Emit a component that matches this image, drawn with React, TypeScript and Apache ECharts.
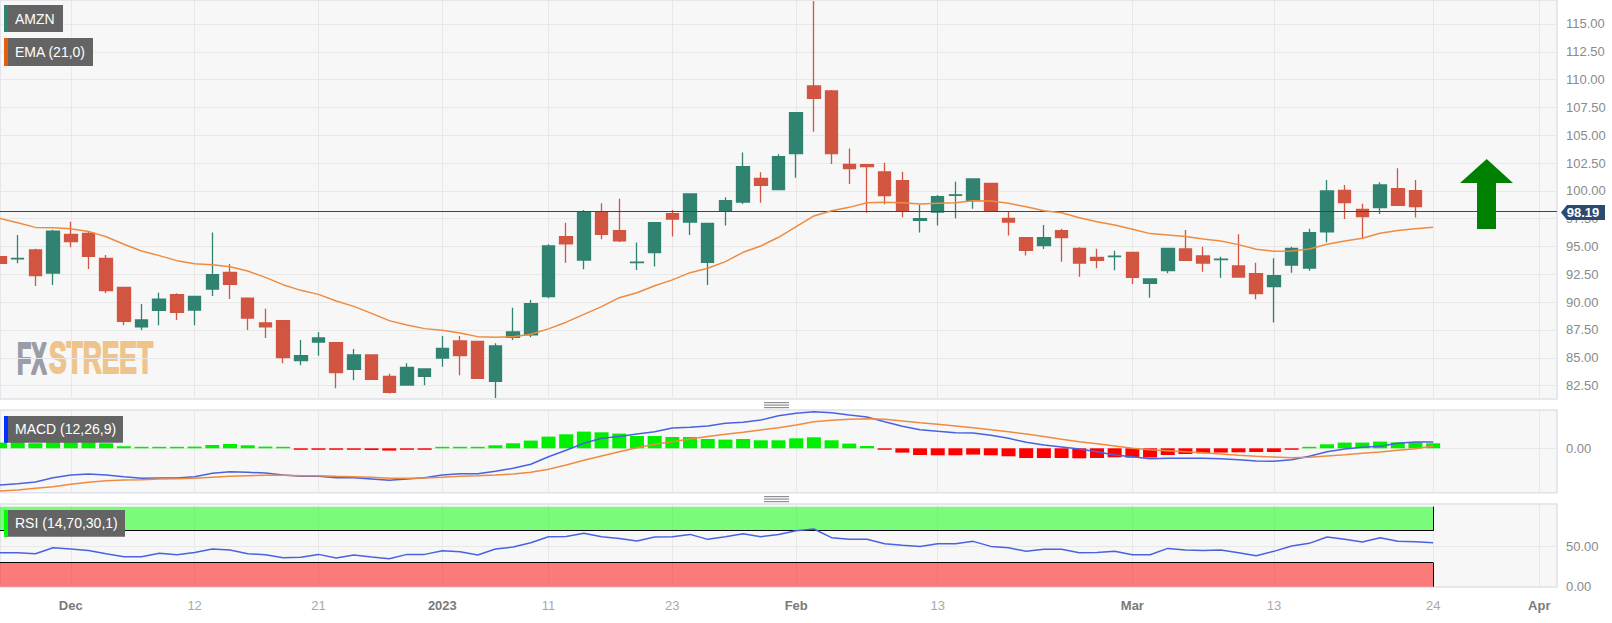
import React, { useEffect, useRef } from "react";
import * as echarts from "echarts";

const dates = [
  "Nov 25","Nov 28","Nov 29","Nov 30","Dec 1","Dec 2","Dec 5","Dec 6","Dec 7","Dec 8","Dec 9","Dec 12","Dec 13","Dec 14","Dec 15","Dec 16","Dec 19","Dec 20","Dec 21","Dec 22","Dec 23","Dec 27","Dec 28","Dec 29","Dec 30",
  "Jan 3","Jan 4","Jan 5","Jan 6","Jan 9","Jan 10","Jan 11","Jan 12","Jan 13","Jan 17","Jan 18","Jan 19","Jan 20","Jan 23","Jan 24","Jan 25","Jan 26","Jan 27","Jan 30","Jan 31",
  "Feb 1","Feb 2","Feb 3","Feb 6","Feb 7","Feb 8","Feb 9","Feb 10","Feb 13","Feb 14","Feb 15","Feb 16","Feb 17","Feb 21","Feb 22","Feb 23","Feb 24","Feb 27","Feb 28",
  "Mar 1","Mar 2","Mar 3","Mar 6","Mar 7","Mar 8","Mar 9","Mar 10","Mar 13","Mar 14","Mar 15","Mar 16","Mar 17","Mar 20","Mar 21","Mar 22","Mar 23","Mar 24","Mar 27","Mar 28","Mar 29","Mar 30","Mar 31","Apr 3","Apr 4",
];

const tickDates = ["Dec 1","Dec 12","Dec 21","Jan 3","Jan 11","Jan 23","Feb 1","Feb 13","Mar 1","Mar 13","Mar 24","Apr 3"];
const tickTexts = ["Dec","12","21","2023","11","23","Feb","13","Mar","13","24","Apr"];
const majorTicks = ["Dec","2023","Feb","Mar","Apr"];

const opens = [94.09,93.89,94.69,92.62,96.09,96.18,93.94,91.33,87.77,89.26,90.67,89.29,91.18,92.68,90.37,88.13,88.34,84.74,86.42,86.36,83.96,85.25,83.33,82.55,83.33,84.98,86.51,86.48,82.88,86.84,87.05,
  90.49,95.89,93.79,98.13,96.43,93.56,94.45,97.95,97.2,93.58,98.16,99.0,101.13,100.11,103.35,109.43,108.98,102.39,102.36,101.7,100.92,97.35,98.1,99.61,99.12,100.68,97.53,
  95.8,95.08,96.42,94.84,94.03,94.1,94.48,91.69,92.83,94.78,94.15,93.83,93.25,92.56,91.39,93.34,93.07,96.31,100.05,98.34,98.49,100.2,100.02];
const closes = [93.49,93.93,92.38,96.39,95.44,94.12,91.03,88.28,88.4,90.28,89.08,90.52,92.47,91.6,88.57,87.77,85.01,85.19,86.78,83.66,85.25,83.06,81.89,84.14,83.99,85.85,85.19,83.15,86.06,87.32,89.86,
  95.05,95.23,98.07,96.1,95.5,93.6,97.14,97.47,99.72,97.08,99.12,102.18,100.5,103.08,107.03,108.32,103.35,102.0,102.18,99.57,98.19,97.5,99.48,99.65,101.07,98.22,97.2,
  94.66,95.8,95.8,93.52,93.76,94.14,92.23,92.08,94.84,93.76,93.52,93.87,92.26,90.76,92.38,94.84,96.25,99.99,98.94,97.68,100.53,98.7,98.58];
const lows = [93.4,93.49,91.45,91.54,94.93,92.98,90.79,87.92,87.5,87.92,88.4,87.92,90.55,90.28,87.5,86.78,84.5,84.32,85.19,82.25,82.97,83.0,81.8,82.5,82.52,84.2,83.42,83.15,81.38,86.6,86.84,
  90.35,93.55,92.95,95.65,95.4,92.89,93.2,95.89,96.03,91.54,96.9,98.82,98.94,100.1,101.19,105.32,102.42,100.62,98.04,98.79,97.62,96.25,96.9,97.54,98.4,98.1,96.0,
  94.2,94.78,93.64,92.29,93.04,92.86,91.63,90.4,92.59,93.7,92.74,92.2,92.26,90.25,88.16,92.65,92.83,95.38,97.47,95.74,97.92,98.7,97.6];
const highs = [94.2,96.03,94.8,96.5,97.23,96.33,94.24,91.35,89.83,90.85,90.79,90.55,96.27,93.43,90.37,89.41,88.34,86.6,87.29,86.36,85.79,85.31,83.57,84.5,84.0,86.96,86.96,86.48,86.3,89.5,90.2,
  95.2,97.14,98.28,98.88,99.3,95.35,97.2,98.28,99.78,97.1,99.42,103.44,101.67,103.3,107.03,117.07,109.07,103.8,102.36,102.54,101.73,98.76,99.63,100.83,101.07,100.68,98.1,
  95.8,96.93,96.6,94.93,94.81,94.63,94.48,92.14,94.84,96.49,94.99,94.09,96.1,93.55,93.94,94.99,96.6,100.98,100.53,98.85,100.77,102.03,100.98];

const ema = [97.53,97.14,96.72,96.69,96.6,96.36,95.88,95.2,94.6,94.18,93.73,93.46,93.37,93.19,92.8,92.23,91.57,91.06,90.7,90.1,89.62,88.99,88.34,87.95,87.62,87.47,87.23,86.9,86.84,86.9,87.11,
  87.6,88.2,88.9,89.6,90.4,90.85,91.48,92.0,92.65,93.04,93.64,94.48,95.05,95.83,96.79,97.75,98.22,98.52,98.94,98.97,98.94,98.82,98.88,98.94,99.12,99.09,98.88,
  98.58,98.22,98.04,97.59,97.23,96.93,96.55,96.16,96.04,95.89,95.68,95.5,95.17,94.75,94.57,94.6,94.78,95.2,95.5,95.74,96.19,96.43,96.6,96.73];

const macd = [-3.67,-3.54,-3.37,-2.94,-2.67,-2.57,-2.67,-2.84,-3.0,-2.97,-2.97,-2.84,-2.5,-2.34,-2.4,-2.47,-2.67,-2.8,-2.8,-2.94,-2.94,-3.07,-3.2,-3.07,-2.94,-2.67,-2.54,-2.54,-2.3,-2.0,-1.6,-0.84,-0.2,0.5,1.0,1.17,1.43,1.66,2.03,2.1,2.23,2.5,2.6,2.83,3.26,
  3.5,3.66,3.56,3.33,3.13,2.66,2.2,1.86,1.7,1.56,1.53,1.3,1.0,0.6,0.33,0.13,-0.07,-0.34,-0.67,-0.84,-1.04,-1.0,-1.0,-1.0,-1.04,-1.14,-1.27,-1.3,-1.14,-0.8,-0.34,-0.07,0.1,0.2,0.5,0.63,0.63];
const signal = [-4.27,-4.17,-4.0,-3.84,-3.6,-3.4,-3.24,-3.17,-3.14,-3.07,-3.04,-3.0,-2.9,-2.8,-2.74,-2.7,-2.7,-2.74,-2.74,-2.8,-2.84,-2.9,-3.0,-3.0,-2.97,-2.9,-2.8,-2.74,-2.67,-2.57,-2.4,-2.1,-1.67,-1.2,-0.77,-0.34,0.06,0.4,0.66,0.93,1.17,1.4,1.6,1.83,2.06,
  2.33,2.66,2.8,2.9,2.96,2.9,2.73,2.56,2.4,2.23,2.06,1.86,1.66,1.43,1.17,0.9,0.66,0.46,0.23,0.0,-0.14,-0.24,-0.34,-0.44,-0.57,-0.7,-0.8,-0.87,-0.94,-0.9,-0.77,-0.64,-0.5,-0.37,-0.2,-0.04,0.23];
const hist = [0.57,0.67,0.5,0.67,0.73,0.73,0.5,0.2,0.1,0.1,0.1,0.17,0.33,0.43,0.3,0.17,0.03,-0.03,-0.07,-0.13,-0.13,-0.17,-0.23,-0.13,-0.03,0.07,0.13,0.13,0.3,0.5,0.77,1.17,1.4,1.67,1.6,1.47,1.23,1.23,1.13,1.13,0.93,0.87,0.93,0.8,0.8,
  1.0,1.1,0.8,0.47,0.23,-0.03,-0.43,-0.67,-0.7,-0.7,-0.63,-0.7,-0.8,-0.97,-0.97,-0.97,-1.0,-0.97,-0.9,-0.93,-0.93,-0.67,-0.57,-0.5,-0.43,-0.4,-0.37,-0.37,-0.1,0.07,0.4,0.57,0.57,0.67,0.6,0.6,0.5];

const rsi = [42.5,42.5,41.3,48.8,47.1,45.4,41.3,37.5,37.5,41.7,40.0,42.9,47.1,45.9,41.3,40.0,36.3,36.7,40.4,35.8,39.6,37.1,35.0,40.4,40.4,45.0,43.8,39.6,47.1,49.6,55.0,62.5,62.9,66.7,62.5,60.4,57.1,62.1,62.5,65.4,59.2,62.5,66.3,62.5,65.4,70.0,
  72.1,61.3,59.2,59.2,53.8,51.7,50.4,53.8,53.8,56.7,50.4,48.8,44.2,46.7,46.7,42.5,42.9,44.2,40.0,40.0,47.9,45.9,45.4,45.9,42.5,38.8,44.2,50.9,54.2,62.1,59.2,55.9,61.3,56.7,56.3,55.0];

const priceTicks = [82.5,85,87.5,90,92.5,95,97.5,100,102.5,105,107.5,110,112.5,115];
const macdTicks = [0];
const rsiTicks = [0,50];
const lastPrice = 98.19;
const overbought = 70;
const oversold = 30;

const GREEN = "#2f8370";
const RED = "#d15541";
const ORANGE = "#ef8b40";
const BLUE = "#4a62e0";
const GRID_BG = "#f7f7f7";
const SPLIT = "#e8e8e8";
const BORDER = "#e0e1e9";
const FONT = '"Liberation Sans", Arial, sans-serif';
const RIGHT = 1557;
const LEFT = -2.4;

const tag = (x: number, y: number, w: number, h: number, bar: string, text: string) => ({
  type: "group",
  z: 50,
  children: [
    { type: "rect", shape: { x, y, width: w, height: h }, style: { fill: "#646464" }, z: 50 },
    { type: "rect", shape: { x, y, width: 4, height: h }, style: { fill: bar }, z: 51 },
    { type: "text", x: 15, y: y + h / 2, z: 52, style: { text, fill: "#ffffff", font: `14px ${FONT}`, textVerticalAlign: "middle" } },
  ],
});

const handle = (cy: number) => ({
  type: "group",
  children: [-2.5, 0, 2.5].map((d) => ({
    type: "rect",
    shape: { x: 764, y: cy + d - 0.5, width: 25, height: 1.2 },
    style: { fill: "#8f8f8f" },
  })),
});

export default function App() {
  const ref = useRef<HTMLDivElement>(null);

  useEffect(() => {
    document.body.style.margin = "0";
    document.body.style.background = "#ffffff";
    const chart = echarts.init(ref.current!, undefined, { renderer: "svg" });

    const grids = [
      { top: 0, height: 399 },
      { top: 410, height: 82.7 },
      { top: 504, height: 83 },
    ].map((g) => ({
      ...g,
      left: LEFT,
      width: RIGHT - LEFT,
      show: true,
      backgroundColor: GRID_BG,
      borderColor: BORDER,
      borderWidth: 1.5,
      containLabel: false,
    }));

    const tickOf = (d: string) => tickDates.indexOf(d);
    const xAxis = [0, 1, 2].map((i) => ({
      type: "category",
      gridIndex: i,
      data: dates,
      boundaryGap: false,
      axisLine: { show: false },
      axisTick: { show: false, interval: (_: number, v: string) => tickOf(v) >= 0 },
      splitLine: {
        show: true,
        interval: (_: number, v: string) => tickOf(v) >= 0,
        lineStyle: { color: SPLIT, width: 1 },
      },
      axisLabel: {
        show: i === 2,
        interval: (_: number, v: string) => tickOf(v) >= 0,
        margin: 12,
        hideOverlap: false,
        fontFamily: FONT,
        formatter: (v: string) => {
          const t = tickTexts[tickOf(v)] ?? "";
          return majorTicks.includes(t) ? `{major|${t}}` : `{minor|${t}}`;
        },
        rich: {
          major: { fontFamily: FONT, fontSize: 13, fontWeight: "bold", color: "#7a7a7a" },
          minor: { fontFamily: FONT, fontSize: 13, color: "#a8a8a8" },
        },
      },
    }));

    const yBase = (i: number, min: number, max: number, ticks: number[]) => ({
      type: "value",
      gridIndex: i,
      position: "right",
      min,
      max,
      scale: true,
      axisLine: { show: false },
      axisTick: { show: false, customValues: ticks },
      splitLine: { show: true, lineStyle: { color: SPLIT, width: 1 } },
      axisLabel: {
        customValues: ticks,
        margin: 9,
        color: "#8a8a8a",
        fontFamily: FONT,
        fontSize: 13,
        formatter: (v: number) => v.toFixed(2),
      },
    });

    const first = dates[0];
    const lastActive = "Mar 24";

    const option: any = {
      animation: false,
      backgroundColor: "#ffffff",
      grid: grids,
      xAxis,
      yAxis: [
        yBase(0, 81.295, 117.157, priceTicks),
        yBase(1, -4.44, 3.83, macdTicks),
        yBase(2, -0.375, 103.4, rsiTicks),
      ],
      series: [
        {
          name: "AMZN",
          type: "candlestick",
          xAxisIndex: 0,
          yAxisIndex: 0,
          barWidth: 13,
          itemStyle: { color: GREEN, color0: RED, borderColor: GREEN, borderColor0: RED, borderWidth: 1.3 },
          data: opens.map((o, i) => [o, closes[i], lows[i], highs[i]]),
          markLine: {
            silent: true,
            symbol: "none",
            label: { show: false },
            lineStyle: { color: "#2a4a70", width: 1.2, type: "solid" },
            data: [{ yAxis: lastPrice }],
          },
        },
        {
          name: "EMA (21,0)",
          type: "line",
          xAxisIndex: 0,
          yAxisIndex: 0,
          data: ema,
          showSymbol: false,
          lineStyle: { color: ORANGE, width: 1.5 },
          z: 5,
        },
        {
          name: "MACD histogram",
          type: "bar",
          xAxisIndex: 1,
          yAxisIndex: 1,
          barWidth: 14,
          barMinHeight: 1.5,
          data: hist.map((v) => ({ value: v, itemStyle: { color: v >= 0 ? "#00ee00" : "#ff0000" } })),
        },
        {
          name: "MACD",
          type: "line",
          xAxisIndex: 1,
          yAxisIndex: 1,
          data: macd,
          showSymbol: false,
          lineStyle: { color: BLUE, width: 1.5 },
          z: 5,
        },
        {
          name: "Signal",
          type: "line",
          xAxisIndex: 1,
          yAxisIndex: 1,
          data: signal,
          showSymbol: false,
          lineStyle: { color: ORANGE, width: 1.5 },
          z: 5,
        },
        {
          name: "RSI",
          type: "line",
          xAxisIndex: 2,
          yAxisIndex: 2,
          data: rsi,
          showSymbol: false,
          lineStyle: { color: BLUE, width: 1.5 },
          z: 5,
          markArea: {
            silent: true,
            label: { show: false },
            data: [
              [
                { xAxis: first, yAxis: overbought, itemStyle: { color: "rgba(0,255,0,0.5)" } },
                { xAxis: lastActive, yAxis: 100 },
              ],
              [
                { xAxis: first, yAxis: 0, itemStyle: { color: "rgba(255,0,0,0.5)" } },
                { xAxis: lastActive, yAxis: oversold },
              ],
            ],
          },
          markLine: {
            silent: true,
            symbol: "none",
            label: { show: false },
            lineStyle: { color: "#000000", width: 1, type: "solid" },
            data: [
              [{ xAxis: first, yAxis: overbought }, { xAxis: lastActive, yAxis: overbought }],
              [{ xAxis: lastActive, yAxis: overbought }, { xAxis: lastActive, yAxis: 100 }],
              [{ xAxis: first, yAxis: oversold }, { xAxis: lastActive, yAxis: oversold }],
              [{ xAxis: lastActive, yAxis: oversold }, { xAxis: lastActive, yAxis: 0 }],
            ],
          },
        },
      ],
      graphic: [
        tag(4, 5, 59, 27, GREEN, "AMZN"),
        tag(4, 38, 89, 28, "#e0600f", "EMA (21,0)"),
        tag(4, 416, 119, 26.7, "#0030ff", "MACD (12,26,9)"),
        tag(4, 510, 121, 26.7, "#00ff00", "RSI (14,70,30,1)"),
        {
          type: "text",
          x: 17,
          y: 358,
          scaleX: 0.53,
          style: { text: "FX", fill: "#9a9ca6", stroke: "#9a9ca6", lineWidth: 2, font: `bold 44px "Liberation Sans Narrow", ${FONT}`, textVerticalAlign: "middle" },
        },
        {
          type: "text",
          x: 49,
          y: 358,
          scaleX: 0.6,
          style: { text: "STREET", fill: "#eec48c", stroke: "#eec48c", lineWidth: 2, font: `bold 44px "Liberation Sans Narrow", ${FONT}`, textVerticalAlign: "middle" },
        },
        {
          type: "polygon",
          z: 40,
          shape: { points: [[1486.7, 159], [1513, 183], [1496, 183], [1496, 229], [1477, 229], [1477, 183], [1460, 183]] },
          style: { fill: "#008000" },
        },
        {
          type: "polygon",
          z: 60,
          shape: { points: [[1561, 212.5], [1567, 205], [1605, 205], [1605, 220], [1567, 220]] },
          style: { fill: "#2a4a70" },
        },
        {
          type: "text",
          x: 1583,
          y: 212.5,
          z: 61,
          style: { text: lastPrice.toFixed(2), fill: "#ffffff", font: `bold 13px ${FONT}`, textAlign: "center", textVerticalAlign: "middle" },
        },
        handle(405),
        handle(499),
      ],
    };

    chart.setOption(option);
    return () => chart.dispose();
  }, []);

  return <div ref={ref} style={{ width: 1612, height: 623, position: "absolute", left: 0, top: 0 }} />;
}
